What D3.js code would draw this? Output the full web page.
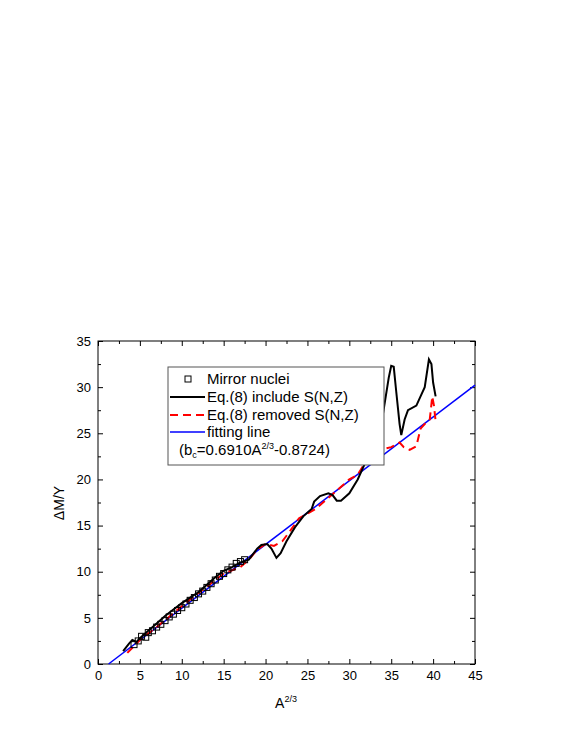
<!DOCTYPE html><html><head><meta charset="utf-8"><script src="https://d3js.org/d3.v7.min.js"></script>
<style>body{margin:0;background:#fff}svg{font-family:"Liberation Sans",Arial,sans-serif}</style></head><body><svg id="c" width="568" height="735"></svg>
<script>
const mirrorX=[4.3,4.8,5.2,5.7,6,6.5,7,7.5,8,8.5,9,9.5,10,10.5,11,11.5,12,12.5,13,13.5,14,14.5,15,15.5,16,16.5,17,17.5];
const mirrorY=[2.1,2.5,3.0,2.9,3.4,3.6,4.0,4.3,4.7,5.1,5.4,5.8,6.1,6.5,6.9,7.2,7.6,7.9,8.3,8.7,9.1,9.5,9.8,10.2,10.5,10.9,11.1,11.3];
const blackX=[3,3.7,4.1,4.6,5,6,7,8,9,10,11,12,13,14,15,16,17,18,19,19.5,20.2,20.7,21.3,21.8,22.5,23.5,24.5,25.5,25.8,26.5,27.5,28,28.5,29,30,31,32,33,34,34.7,35,35.3,35.6,36,36.2,36.6,37,38,38.5,39,39.5,39.8,40,40.3];
const blackY=[1.4,2.2,2.6,2.4,2.8,3.6,4.4,5.2,5.9,6.6,7.2,7.8,8.6,9.4,10.1,10.5,11.0,11.3,12.5,12.9,13.0,12.5,11.5,12.0,13.3,14.8,16,16.8,17.6,18.2,18.5,18.3,17.7,17.7,18.5,20,22,24.5,27,31,32.3,32.2,29.5,26,24.8,26.5,27.5,28,29,30,33,32.5,30.5,29];
const redX=[3.5,5,7,9,11,13,15,17,18,19,20,21,22,23,24,26,28,30,31,32,33,34,35,36,36.5,37.2,38,38.5,39,39.6,39.9,40.1,40.3];
const redY=[1.2,2.6,4,5.5,7,8.4,9.8,10.5,11.3,12.4,13,12.8,13.3,14.5,15.8,16.8,18.4,20,20.5,22,22.8,23.3,23.5,24,23.5,23.2,23.6,25.5,26,26.5,29,28,26.3];
const fitSlope=0.691, fitIntercept=-0.8724, fitX=[1.2625,45];
const xTicks=[0,5,10,15,20,25,30,35,40,45], yTicks=[0,5,10,15,20,25,30,35];
const legendLabels=["Mirror nuclei","Eq.(8) include S(N,Z)","Eq.(8) removed S(N,Z)","fitting line"];

const svg=d3.select("#c");
const L=98,R=475,T=341,B=664;
const x=d3.scaleLinear().domain([0,45]).range([L,R]);
const y=d3.scaleLinear().domain([0,35]).range([B,T]);
const g=svg.append("g");
function axis(gen,tr){const a=g.append("g").attr("transform",tr).call(gen);a.select(".domain").remove();a.selectAll("line").attr("stroke","#000");return a;}
axis(d3.axisBottom(x).tickValues(xTicks).tickSize(-5).tickPadding(7),`translate(0,${B})`).selectAll("text").attr("font-size",13);
axis(d3.axisBottom(x).tickValues(d3.range(2.5,45,5)).tickSize(-3).tickFormat(""),`translate(0,${B})`);
axis(d3.axisTop(x).tickValues(xTicks).tickSize(-5).tickFormat(""),`translate(0,${T})`);
axis(d3.axisTop(x).tickValues(d3.range(2.5,45,5)).tickSize(-3).tickFormat(""),`translate(0,${T})`);
axis(d3.axisLeft(y).tickValues(yTicks).tickSize(-5).tickPadding(7),`translate(${L},0)`).selectAll("text").attr("font-size",13);
axis(d3.axisLeft(y).tickValues(d3.range(2.5,35,5)).tickSize(-3).tickFormat(""),`translate(${L},0)`);
axis(d3.axisRight(y).tickValues(yTicks).tickSize(-5).tickFormat(""),`translate(${R},0)`);
axis(d3.axisRight(y).tickValues(d3.range(2.5,35,5)).tickSize(-3).tickFormat(""),`translate(${R},0)`);
g.append("rect").attr("x",L).attr("y",T).attr("width",R-L).attr("height",B-T).attr("fill","none").attr("stroke","#000").attr("stroke-width",1);

const ln=d3.line().x(d=>x(d[0])).y(d=>y(d[1]));
g.append("path").attr("d",ln(fitX.map(v=>[v,fitSlope*v+fitIntercept]))).attr("stroke","#0000ff").attr("stroke-width",1.5).attr("fill","none");
g.append("path").attr("d",ln(redX.map((v,i)=>[v,redY[i]]))).attr("stroke","#ff0000").attr("stroke-width",2).attr("stroke-dasharray","8,5").attr("fill","none");
g.selectAll(".m").data(mirrorX).join("rect").attr("x",(d)=>x(d)-3).attr("y",(d,i)=>y(mirrorY[i])-3).attr("width",6).attr("height",6).attr("fill","none").attr("stroke","#000");
g.append("path").attr("d",ln(blackX.map((v,i)=>[v,blackY[i]]))).attr("stroke","#000").attr("stroke-width",2).attr("fill","none");

const lg=g.append("g");
lg.append("rect").attr("x",168).attr("y",367).attr("width",216).attr("height",98).attr("fill","#fff").attr("stroke","#555");
const ly=[379,397,415,432];
lg.append("rect").attr("x",185).attr("y",ly[0]-3).attr("width",6).attr("height",6).attr("fill","none").attr("stroke","#000");
lg.append("line").attr("x1",170).attr("x2",205).attr("y1",ly[1]).attr("y2",ly[1]).attr("stroke","#000").attr("stroke-width",2);
lg.append("line").attr("x1",170).attr("x2",205).attr("y1",ly[2]).attr("y2",ly[2]).attr("stroke","#f00").attr("stroke-width",2).attr("stroke-dasharray","8,5");
lg.append("line").attr("x1",170).attr("x2",205).attr("y1",ly[3]).attr("y2",ly[3]).attr("stroke","#00f").attr("stroke-width",1.5);
legendLabels.forEach((t,i)=>lg.append("text").attr("x",207).attr("y",ly[i]+5).attr("font-size",15).text(t));
const ft=lg.append("text").attr("x",179).attr("y",455).attr("font-size",15);
ft.append("tspan").text("(b");ft.append("tspan").attr("font-size",9).attr("dy",3).text("c");
ft.append("tspan").attr("dy",-3).text("=0.6910A");ft.append("tspan").attr("font-size",9).attr("dy",-6).text("2/3");
ft.append("tspan").attr("dy",6).text("-0.8724)");

svg.append("text").attr("transform","translate(64,503) rotate(-90)").attr("text-anchor","middle").attr("font-size",14).text("ΔM/Y");
const xt=svg.append("text").attr("x",286).attr("y",708).attr("text-anchor","middle").attr("font-size",14);
xt.append("tspan").text("A");xt.append("tspan").attr("font-size",9).attr("dy",-6).text("2/3");
</script></body></html>
